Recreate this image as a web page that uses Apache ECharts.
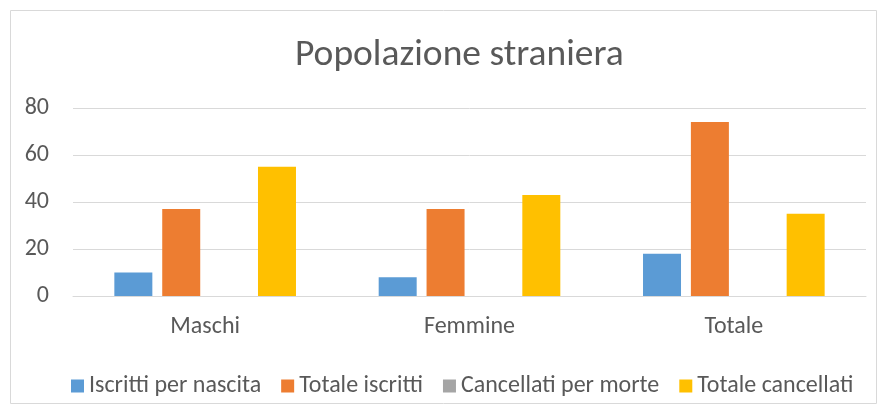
<!DOCTYPE html>
<html><head><meta charset="utf-8">
<script src="https://cdn.jsdelivr.net/npm/echarts@6/dist/echarts.min.js"></script>
<style>html,body{margin:0;padding:0;background:#fff}#c{width:889px;height:415px}</style>
</head><body><div id="c"></div>
<script>
const categories = ["Maschi", "Femmine", "Totale"];
const seriesNames = ["Iscritti per nascita", "Totale iscritti", "Cancellati per morte", "Totale cancellati"];
const iscrittiNascita = [10, 8, 18];
const totaleIscritti = [37, 37, 74];
const cancellatiMorte = [0, 0, 0];
const totaleCancellati = [55, 43, 35];
const yTicks = [0, 20, 40, 60, 80];
const colors = ["#5B9BD5", "#ED7D31", "#A5A5A5", "#FFC000"];
const FONT = "Carlito, 'Liberation Sans Narrow', 'Noto Sans', sans-serif";
const values = [iscrittiNascita, totaleIscritti, cancellatiMorte, totaleCancellati];
const chart = echarts.init(document.getElementById('c'));
chart.setOption({
  animation: false,
  textStyle: {fontFamily: FONT, color: '#595959'},
  title: {text: 'Popolazione straniera', left: 290, top: 32,
    textStyle: {fontFamily: FONT, fontWeight: 'normal', fontSize: 37.5, color: '#595959'}},
  graphic: [{type: 'rect', shape: {x: 10.5, y: 10.5, width: 866, height: 393},
    style: {fill: 'none', stroke: '#d9d9d9', lineWidth: 1}, silent: true}],
  legend: {top: 369, left: 66, itemWidth: 13, itemHeight: 13, itemGap: 20,
    icon: 'rect', textStyle: {fontFamily: FONT, fontSize: 24, color: '#595959'},
    data: seriesNames},
  grid: {left: 73, right: 23, top: 108, bottom: 119},
  xAxis: {type: 'category', data: categories,
    axisLine: {lineStyle: {color: '#d9d9d9'}}, axisTick: {show: false},
    axisLabel: {fontFamily: FONT, fontSize: 24, color: '#595959', margin: 19}},
  yAxis: {type: 'value', min: 0, max: yTicks[yTicks.length - 1], interval: 20,
    axisLine: {show: false}, axisTick: {show: false},
    splitLine: {lineStyle: {color: '#d9d9d9', width: 1}},
    axisLabel: {fontFamily: FONT, fontSize: 24, color: '#595959', margin: 24}},
  series: seriesNames.map((n, i) => ({
    name: n, type: 'bar', data: values[i], barWidth: 38, barGap: '26%', barCategoryGap: '31%',
    itemStyle: {color: colors[i]}
  }))
});
</script></body></html>
